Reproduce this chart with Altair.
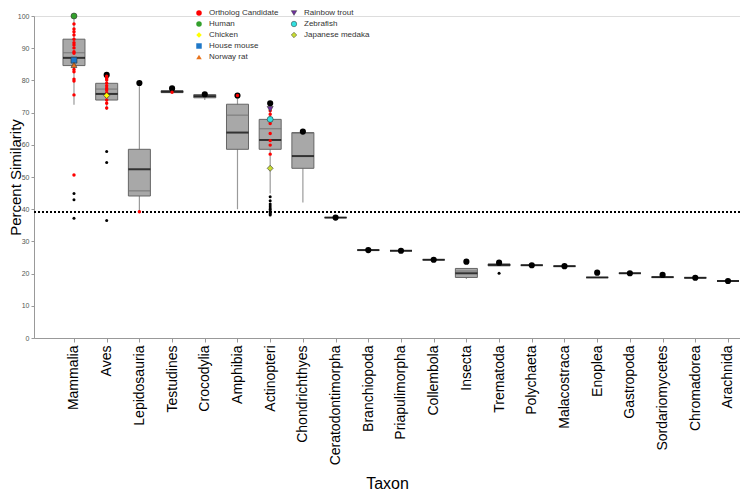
import altair as alt
import pandas as pd

# ---------------- data ----------------
taxa = ["Mammalia", "Aves", "Lepidosauria", "Testudines", "Crocodylia", "Amphibia",
        "Actinopteri", "Chondrichthyes", "Ceratodontimorpha", "Branchiopoda",
        "Priapulimorpha", "Collembola", "Insecta", "Trematoda", "Polychaeta",
        "Malacostraca", "Enoplea", "Gastropoda", "Sordariomycetes", "Chromadorea",
        "Arachnida"]
q1 = [84.6, 73.9, 44.1, 76.2, 74.6, 58.6, 58.6, 52.7, 37.4, 27.3, 27.1, 24.3, 18.8, 22.4,
      22.6, 22.3, 18.8, 20.1, 18.9, 18.7, 17.7]
q3 = [92.8, 79.1, 58.6, 76.8, 75.6, 72.6, 67.9, 63.8, 37.4, 27.3, 27.1, 24.3, 21.6, 23.0,
      22.6, 22.3, 18.8, 20.1, 18.9, 18.7, 17.7]
median = [87.0, 75.8, 52.4, 76.5, 75.1, 63.8, 61.5, 56.5, 37.4, 27.3, 27.1, 24.3, 20.1, 22.7,
          22.6, 22.3, 18.8, 20.1, 18.9, 18.7, 17.7]
mean = [88.6, 77.3, 45.7, 76.5, 75.1, 69.2, 65.0, 63.6, 37.4, 27.3, 27.1, 24.3, 20.8, 22.8,
        22.6, 22.3, 18.8, 20.1, 18.9, 18.7, 17.7]
whisk_lo = [72.4, 70.8, 39.2, 76.0, 73.9, 40.0, 44.9, 42.1, 37.4, 27.3, 27.1, 24.3, 18.3, 22.4,
            22.6, 22.3, 18.8, 20.1, 18.9, 18.7, 17.7]
whisk_hi = [100.0, 81.7, 79.2, 77.5, 75.7, 75.3, 72.9, 64.1, 37.4, 27.3, 27.1, 24.3, 21.6, 23.0,
            22.6, 22.3, 18.8, 20.1, 18.9, 18.7, 17.7]

query_taxa = ["Aves", "Lepidosauria", "Testudines", "Crocodylia", "Amphibia", "Actinopteri",
              "Chondrichthyes", "Ceratodontimorpha", "Branchiopoda", "Priapulimorpha",
              "Collembola", "Insecta", "Trematoda", "Polychaeta", "Malacostraca", "Enoplea",
              "Gastropoda", "Sordariomycetes", "Chromadorea", "Arachnida"]
query_vals = [81.7, 79.2, 77.5, 75.7, 75.3, 72.9, 64.1, 37.4, 27.3, 27.1, 24.3, 23.7, 23.4,
              22.6, 22.3, 20.3, 20.1, 19.6, 18.7, 17.7]

outlier_taxa = ["Mammalia"] * 3 + ["Aves"] * 3 + ["Actinopteri"] * 10 + ["Trematoda"]
outlier_vals = [44.9, 42.9, 37.2,
                57.9, 54.5, 36.5,
                43.9, 42.6, 41.6, 41.0, 40.4, 39.9, 39.4, 38.9, 38.5, 38.2,
                20.1]

cand_taxa = (["Mammalia"] * 17 + ["Aves"] * 12 + ["Lepidosauria", "Testudines", "Amphibia"]
             + ["Actinopteri"] * 7)
cand_vals = [97.5, 96.0, 95.1, 94.1, 92.8, 91.7, 91.0, 90.1, 88.9, 88.4, 86.3, 83.4, 82.7,
             80.4, 79.8, 75.5, 50.6,
             81.3, 80.6, 80.1, 79.1, 78.3, 77.6, 77.0, 76.2, 75.0, 73.9, 72.9, 71.4,
             39.2, 76.3, 75.3,
             70.6, 69.5, 66.6, 63.5, 61.3, 59.9, 57.1]

speciesA_names = ["Human", "Chicken", "House mouse", "Norway rat"]
speciesA_taxa = ["Mammalia", "Aves", "Mammalia", "Mammalia"]
speciesA_vals = [100.0, 75.3, 86.3, 84.8]

speciesB_names = ["Rainbow trout", "Zebrafish", "Japanese medaka"]
speciesB_taxa = ["Actinopteri", "Actinopteri", "Actinopteri"]
speciesB_vals = [71.1, 67.9, 52.7]

threshold = 39.2
y_ticks = [0, 10, 20, 30, 40, 50, 60, 70, 80, 90, 100]

legendA_domain = ["Ortholog Candidate", "Human", "Chicken", "House mouse", "Norway rat"]
legendA_colors = ["#ff0000", "#33a02c", "#ffff00", "#1f78c8", "#e8731c"]
legendA_shapes = ["circle", "circle", "diamond", "square", "triangle-up"]
legendB_domain = ["Rainbow trout", "Zebrafish", "Japanese medaka"]
legendB_colors = ["#7030a0", "#33e0e0", "#c8dc32"]
legendB_shapes = ["triangle-down", "circle", "diamond"]

# ---------------- tables ----------------
box_df = pd.DataFrame({"taxon": taxa, "q1": q1, "q3": q3, "median": median, "mean": mean,
                       "lo": whisk_lo, "hi": whisk_hi})
query_df = pd.DataFrame({"taxon": query_taxa, "value": query_vals})
out_df = pd.DataFrame({"taxon": outlier_taxa, "value": outlier_vals})
cand_df = pd.DataFrame({"taxon": cand_taxa, "value": cand_vals,
                        "species": ["Ortholog Candidate"] * len(cand_vals)})
specA_df = pd.DataFrame({"taxon": speciesA_taxa, "value": speciesA_vals, "species": speciesA_names})
specB_df = pd.DataFrame({"taxon": speciesB_taxa, "value": speciesB_vals, "species": speciesB_names})

FONT = "Liberation Sans"
PLOT_W = 706
PLOT_H = 322

xenc = alt.X("taxon:N",
             scale=alt.Scale(type="point", domain=taxa, padding=0.795, align=0.769),
             axis=alt.Axis(title="Taxon", labelAngle=270, labelFontSize=14,
                           labelColor="black", labelPadding=3, tickSize=4,
                           tickColor="#999999", domainColor="#999999",
                           titleFontSize=16, titleFontWeight="normal", titleColor="black",
                           titlePadding=11))
yscale = alt.Scale(domain=[0, 100], nice=False)
yaxis = alt.Axis(values=y_ticks, title="Percent Similarity", labelOverlap=False,
                 labelFontSize=7, labelColor="#555555", labelPadding=2, tickSize=3,
                 tickColor="#999999", domainColor="#999999", titleFontSize=15,
                 titleFontWeight="normal", titleColor="black", titleAngle=270,
                 titleBaseline="alphabetic", titleAlign="center", titleX=-14,
                 titleY=PLOT_H / 2)


def yq(field):
    return alt.Y(f"{field}:Q", scale=yscale, axis=yaxis)


whisker = alt.Chart(box_df).mark_rule(color="#9a9a9a", strokeWidth=1.2).encode(
    x=xenc, y=yq("lo"), y2="hi:Q")
box = alt.Chart(box_df).mark_bar(size=22, fill="#a8a8a8", stroke="#666666",
                                 strokeWidth=1).encode(x=xenc, y=yq("q1"), y2="q3:Q")
mean_tick = alt.Chart(box_df).mark_tick(color="#707070", thickness=1.3, size=22).encode(
    x=xenc, y=yq("mean"))
med_tick = alt.Chart(box_df).mark_tick(color="black", thickness=2, size=22).encode(
    x=xenc, y=yq("median"))
thr = alt.Chart(box_df).mark_rule(color="black", strokeDash=[2, 2], strokeWidth=1.3).encode(
    y=alt.datum(threshold, scale=yscale, axis=yaxis))
outl = alt.Chart(out_df).mark_circle(size=9, color="black", opacity=1).encode(
    x=xenc, y=yq("value"))
query = alt.Chart(query_df).mark_circle(size=38, color="black", opacity=1).encode(
    x=xenc, y=yq("value"))

legA = alt.Legend(orient="none", legendX=161, legendY=-7, title=None, labelFontSize=8,
                  labelColor="#333333", labelFont=FONT, symbolSize=30, rowPadding=3,
                  labelOffset=6, padding=0, symbolStrokeWidth=0.5)
legB = alt.Legend(orient="none", legendX=256, legendY=-7, title=None, labelFontSize=8,
                  labelColor="#333333", labelFont=FONT, symbolSize=30, rowPadding=3,
                  labelOffset=6, padding=0, symbolStrokeWidth=0.5)

colA = alt.Color("species:N", scale=alt.Scale(domain=legendA_domain, range=legendA_colors),
                 legend=legA)
shpA = alt.Shape("species:N", scale=alt.Scale(domain=legendA_domain, range=legendA_shapes),
                 legend=legA)
colB = alt.Color("species:N", scale=alt.Scale(domain=legendB_domain, range=legendB_colors),
                 legend=legB)
shpB = alt.Shape("species:N", scale=alt.Scale(domain=legendB_domain, range=legendB_shapes),
                 legend=legB)

cand = alt.Chart(cand_df).mark_point(filled=True, size=12, opacity=1).encode(
    x=xenc, y=yq("value"), color=colA, shape=shpA)
specA = alt.Chart(specA_df).mark_point(filled=True, size=36, opacity=1, stroke="#333333",
                                       strokeWidth=0.6).encode(
    x=xenc, y=yq("value"), color=colA, shape=shpA)
specB = alt.Chart(specB_df).mark_point(filled=True, size=36, opacity=1, stroke="#333333",
                                       strokeWidth=0.6).encode(
    x=xenc, y=yq("value"), color=colB, shape=shpB)

layerA = alt.layer(cand, specA)

chart = alt.layer(whisker, box, mean_tick, med_tick, thr, outl, query, layerA, specB).resolve_scale(
    color="independent", shape="independent"
).properties(
    width=PLOT_W, height=PLOT_H,
    autosize=alt.AutoSizeParams(type="none"),
    padding={"left": 26, "top": 8, "right": 0, "bottom": 156},
).configure_view(stroke=None).configure(font=FONT).configure_axis(grid=False)

chart.save("out.html", embed_options={"renderer": "svg", "actions": False})
